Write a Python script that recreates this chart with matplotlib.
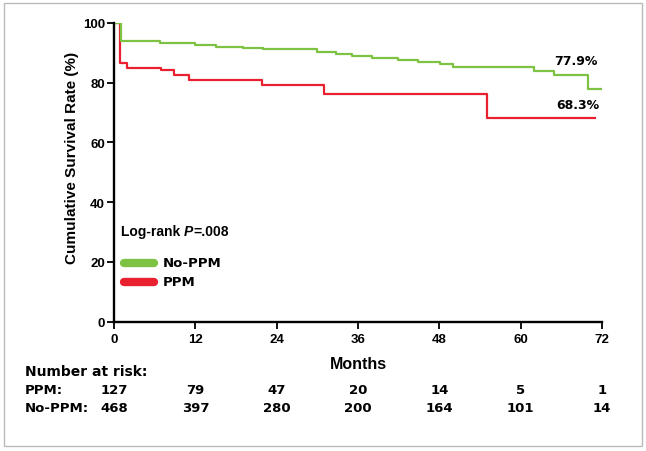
import matplotlib
matplotlib.use("Agg")
import matplotlib.pyplot as plt
import matplotlib.patches as mpatches
from matplotlib.transforms import blended_transform_factory

# ── Data ─────────────────────────────────────────────────────────────────────
no_ppm_months   = [0, 1.0, 6.8, 11.9, 15.1, 19.1, 22.0, 29.9, 32.8, 35.1, 38.0,
                   41.9, 44.9, 48.1, 50.0, 61.9, 64.9, 70.0, 72.0]
no_ppm_survival = [100, 93.8, 93.3, 92.6, 92.1, 91.7, 91.4, 90.2, 89.7, 89.0, 88.3,
                   87.7, 87.0, 86.3, 85.2, 84.0, 82.6, 77.9, 77.9]

ppm_months   = [0, 0.9, 1.9, 6.9, 8.8, 11.1, 21.9, 31.0, 55.0, 70.9]
ppm_survival = [100, 86.7, 84.8, 84.3, 82.6, 80.9, 79.4, 76.3, 68.3, 68.3]

x_ticks = [0, 12, 24, 36, 48, 60, 72]
y_ticks = [0, 20, 40, 60, 80, 100]

risk_ppm    = [127, 79, 47, 20, 14, 5, 1]
risk_no_ppm = [468, 397, 280, 200, 164, 101, 14]

GREEN = "#7DC242"
RED   = "#E8202F"
BOLD_SANS = "Liberation Sans"
WIDE_SANS = "DejaVu Sans"

# ── Figure ───────────────────────────────────────────────────────────────────
fig = plt.figure(figsize=(6.46, 4.52), dpi=100)
ax = fig.add_axes([0.1765, 0.286, 0.7554, 0.661])

ax.plot(ppm_months, ppm_survival, drawstyle="steps-post", color=RED, lw=1.6)
ax.plot(no_ppm_months, no_ppm_survival, drawstyle="steps-post", color=GREEN, lw=1.6)

ax.set_xlim(0, 72)
ax.set_ylim(0, 100)
ax.set_xticks(x_ticks)
ax.set_yticks(y_ticks)
for side in ("top", "right"):
    ax.spines[side].set_visible(False)
for side in ("left", "bottom"):
    ax.spines[side].set_linewidth(1.7)
ax.tick_params(axis="both", length=5, width=1.3, direction="out")
ax.tick_params(axis="y", pad=1.5)
ax.tick_params(axis="x", pad=3)
for lab in ax.get_xticklabels() + ax.get_yticklabels():
    lab.set_fontfamily(BOLD_SANS)
    lab.set_fontweight("bold")
    lab.set_fontsize(9.5)

fig.text(71.7 / 646, 1 - 157.5 / 452, "Cumulative Survival Rate (%)",
         rotation=90, ha="center", va="center",
         family=BOLD_SANS, fontweight="bold", fontsize=11)
fig.text(358 / 646, 1 - 365 / 452, "Months", ha="center", va="center",
         family=BOLD_SANS, fontweight="bold", fontsize=11.5)

# end-point labels
ax.text(65.0, 87.4, "77.9%", ha="left", va="center",
        family=WIDE_SANS, fontweight="bold", fontsize=9)
ax.text(65.3, 72.7, "68.3%", ha="left", va="center",
        family=WIDE_SANS, fontweight="bold", fontsize=9)

# log-rank, built from three pieces so P can be italic
t1 = ax.text(1.0, 28.9, "Log-rank ", ha="left", va="baseline",
             family=BOLD_SANS, fontweight="bold", fontsize=10)
t2 = ax.annotate("P", xy=(1, 0), xycoords=t1, ha="left", va="bottom",
                 family=BOLD_SANS, fontweight="bold", fontstyle="italic", fontsize=10)
ax.annotate("=.008", xy=(1, 0), xycoords=t2, ha="left", va="bottom",
            family=BOLD_SANS, fontweight="bold", fontsize=10)

# legend swatches
for y, col, name in [(19.7, GREEN, "No-PPM"), (13.4, RED, "PPM")]:
    ax.plot([1.5, 5.9], [y, y], color=col, lw=6, solid_capstyle="round")
    ax.text(7.2, y, name, ha="left", va="center",
            family=WIDE_SANS, fontweight="bold", fontsize=9.5)

# number-at-risk table
trans = blended_transform_factory(ax.transData, fig.transFigure)
fig.text(25 / 646, 1 - 371.7 / 452, "Number at risk:", ha="left", va="center",
         family=WIDE_SANS, fontweight="bold", fontsize=10)
for label, row, yfig in [("PPM:", risk_ppm, 1 - 391 / 452),
                         ("No-PPM:", risk_no_ppm, 1 - 409 / 452)]:
    fig.text(25 / 646, yfig, label, ha="left", va="center",
             family=WIDE_SANS, fontweight="bold", fontsize=9.5)
    for xt, n in zip(x_ticks, row):
        ax.text(xt, yfig, str(n), transform=trans, ha="center", va="center",
                family=WIDE_SANS, fontweight="bold", fontsize=9.5, clip_on=False)

# outer grey frame
fig.patches.append(mpatches.Rectangle((4 / 646, 1 - 446.7 / 452),
                                      637.7 / 646, 442.7 / 452,
                                      transform=fig.transFigure, fill=False,
                                      edgecolor="#BBBBBB", lw=1.0))

fig.savefig("out.png", dpi=100)
